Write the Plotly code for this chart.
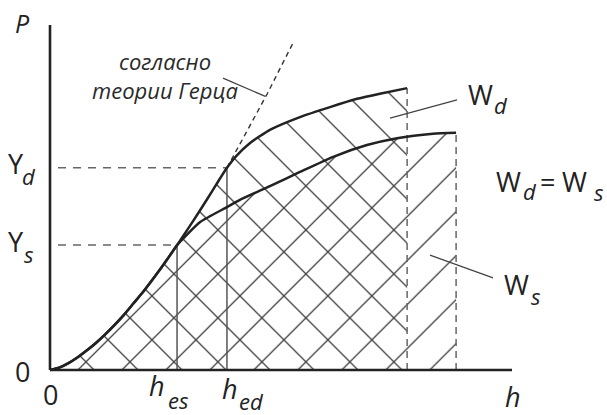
import plotly.graph_objects as go

# --- load curve P(h), shared part up to the static yield point (h_es, Y_s)
common_h = [0, 0.2, 0.4, 0.6, 0.8, 1.0, 1.2, 1.4, 1.6, 1.8, 2.0, 2.2, 2.4, 2.6, 2.75]
common_P = [0, 0.07, 0.20, 0.37, 0.57, 0.79, 1.04, 1.31, 1.60, 1.92, 2.24, 2.59, 2.95, 3.33, 3.62]

# Hertz branch continued up to the dynamic yield point (h_ed, Y_d)
hertz_h = [3.0, 3.2, 3.4, 3.6, 3.83]
hertz_P = [4.12, 4.53, 4.95, 5.38, 5.86]

# dynamic loading after yield
dyn_h = [4.03, 4.33, 4.76, 5.41, 6.06, 6.65, 7.14, 7.73]
dyn_P = [6.20, 6.58, 6.96, 7.33, 7.62, 7.86, 8.01, 8.17]

# static loading after yield
stat_h = [3.25, 3.83, 4.11, 4.76, 5.41, 6.13, 6.86, 7.51, 8.29, 8.79]
stat_P = [4.29, 4.72, 4.93, 5.33, 5.74, 6.18, 6.52, 6.72, 6.85, 6.88]

# Hertz theory extrapolated beyond Y_d
theory_h = [3.83, 4.70, 5.26]
theory_P = [5.86, 8.00, 9.48]

# axis extents
h_max = 10.0
P_max = 10.0

# leader lines for the labels
leader_hertz_h = [3.745, 4.66]
leader_hertz_P = [8.46, 7.93]
leader_wd_h = [7.36, 8.81]
leader_wd_P = [7.30, 7.83]
leader_ws_h = [8.225, 9.59]
leader_ws_P = [3.33, 2.67]

# characteristic points
h_es, Y_s = common_h[-1], common_P[-1]
h_ed, Y_d = hertz_h[-1], hertz_P[-1]
dash_start = 0.173

PX_H = 46.2   # px per unit of h
PX_P = 34.5   # px per unit of P
X0, Y0 = 50, 370   # pixel position of the origin
LEFT, TOP, W, H = 42, 10, 607, 415

ink = "#222222"
grey = "#555555"
hatch_col = "#444444"

fig = go.Figure()

wd_h = common_h + hertz_h + dyn_h
wd_P = common_P + hertz_P + dyn_P
ws_h = common_h + stat_h
ws_P = common_P + stat_P

# hatched work areas
fig.add_trace(go.Scatter(
    x=wd_h, y=wd_P, mode="none", fill="tozeroy", fillcolor="rgba(0,0,0,0)",
    line=dict(shape="spline", smoothing=0.5),
    fillpattern=dict(shape="\\", size=31.1, solidity=0.044,
                     fgcolor=hatch_col, bgcolor="rgba(0,0,0,0)", fgopacity=1),
    hoverinfo="skip"))
fig.add_trace(go.Scatter(
    x=ws_h, y=ws_P, mode="none", fill="tozeroy", fillcolor="rgba(0,0,0,0)",
    line=dict(shape="spline", smoothing=0.5),
    fillpattern=dict(shape="/", size=31.1, solidity=0.044,
                     fgcolor=hatch_col, bgcolor="rgba(0,0,0,0)", fgopacity=1),
    hoverinfo="skip"))


def seg(xs, ys, color, width, dash="solid", shape="linear"):
    fig.add_trace(go.Scatter(x=xs, y=ys, mode="lines",
                             line=dict(color=color, width=width, dash=dash, shape=shape,
                                       smoothing=0.5 if shape == "spline" else None),
                             hoverinfo="skip"))


# yield point guides
seg([h_es, h_es], [0, Y_s], grey, 1.5)
seg([h_ed, h_ed], [0, Y_d], grey, 1.5)
seg([dash_start, h_ed], [Y_d, Y_d], "#666666", 1.5, "8px,7px")
seg([dash_start, h_es], [Y_s, Y_s], "#666666", 1.5, "8px,7px")
seg([dyn_h[-1], dyn_h[-1]], [0, dyn_P[-1]], "#666666", 1.5, "7px,5px")
seg([stat_h[-1], stat_h[-1]], [0, stat_P[-1]], "#666666", 1.5, "7px,5px")

# Hertz extrapolation
seg(theory_h, theory_P, "#333333", 1.4, "5px,4px")

# leaders
seg(leader_hertz_h, leader_hertz_P, "#444444", 1.3)
seg(leader_wd_h, leader_wd_P, "#444444", 1.3)
seg(leader_ws_h, leader_ws_P, "#444444", 1.3)

# loading curves
seg(ws_h, ws_P, ink, 2.5, shape="spline")
seg(wd_h, wd_P, ink, 2.5, shape="spline")

# axes
seg([0, h_max], [0, 0], ink, 2.6)
seg([0, 0], [0, P_max], ink, 2.6)

FONT = "Open Sans"


def label(text, px, py, size=27, italic=False, color=ink):
    """Text centred at a screen position (px, py) given in pixels."""
    fig.add_annotation(x=(px - LEFT) / (W - LEFT), y=(H - py) / (H - TOP),
                       xref="paper", yref="paper",
                       text=text, showarrow=False, xanchor="center", yanchor="middle",
                       font=dict(family=FONT, size=size, color=color,
                                 style="italic" if italic else "normal"))


SUB = 22
label("P", 22.5, 23.5, size=25, italic=True)
label("Y", 16, 163.7)
label("d", 28.5, 176.1, SUB, True)
label("Y", 16, 241.7)
label("s", 29, 253.6, SUB, True)
label("0", 22.5, 371.7)
label("0", 50, 394.7)
label("h", 156.5, 385.7, italic=True)
label("es", 178.5, 399.6, SUB, True)
label("h", 229.5, 388.7, italic=True)
label("ed", 251.5, 400.6, SUB, True)
label("h", 512.5, 396.7, italic=True)
label("W", 480, 94.7)
label("d", 500.5, 104.6, SUB, True)
label("W", 508.5, 181.7)
label("d", 529.5, 190.6, SUB, True)
label("=", 547.5, 181.7)
label("W", 574, 181.7)
label("s", 599, 191.6, SUB, True)
label("W", 516, 284.7)
label("s", 536, 295.6, SUB, True)
label("согласно<br>теории Герца", 165, 75, 22, True, "#2a2a2a")

fig.update_layout(
    width=W, height=H,
    margin=dict(l=LEFT, t=TOP, r=0, b=0, pad=0),
    paper_bgcolor="white", plot_bgcolor="white",
    showlegend=False,
    xaxis=dict(range=[(LEFT - X0) / PX_H, (W - X0) / PX_H], visible=False, fixedrange=True),
    yaxis=dict(range=[(Y0 - H) / PX_P, (Y0 - TOP) / PX_P], visible=False, fixedrange=True),
)

fig.write_html("out.html")
